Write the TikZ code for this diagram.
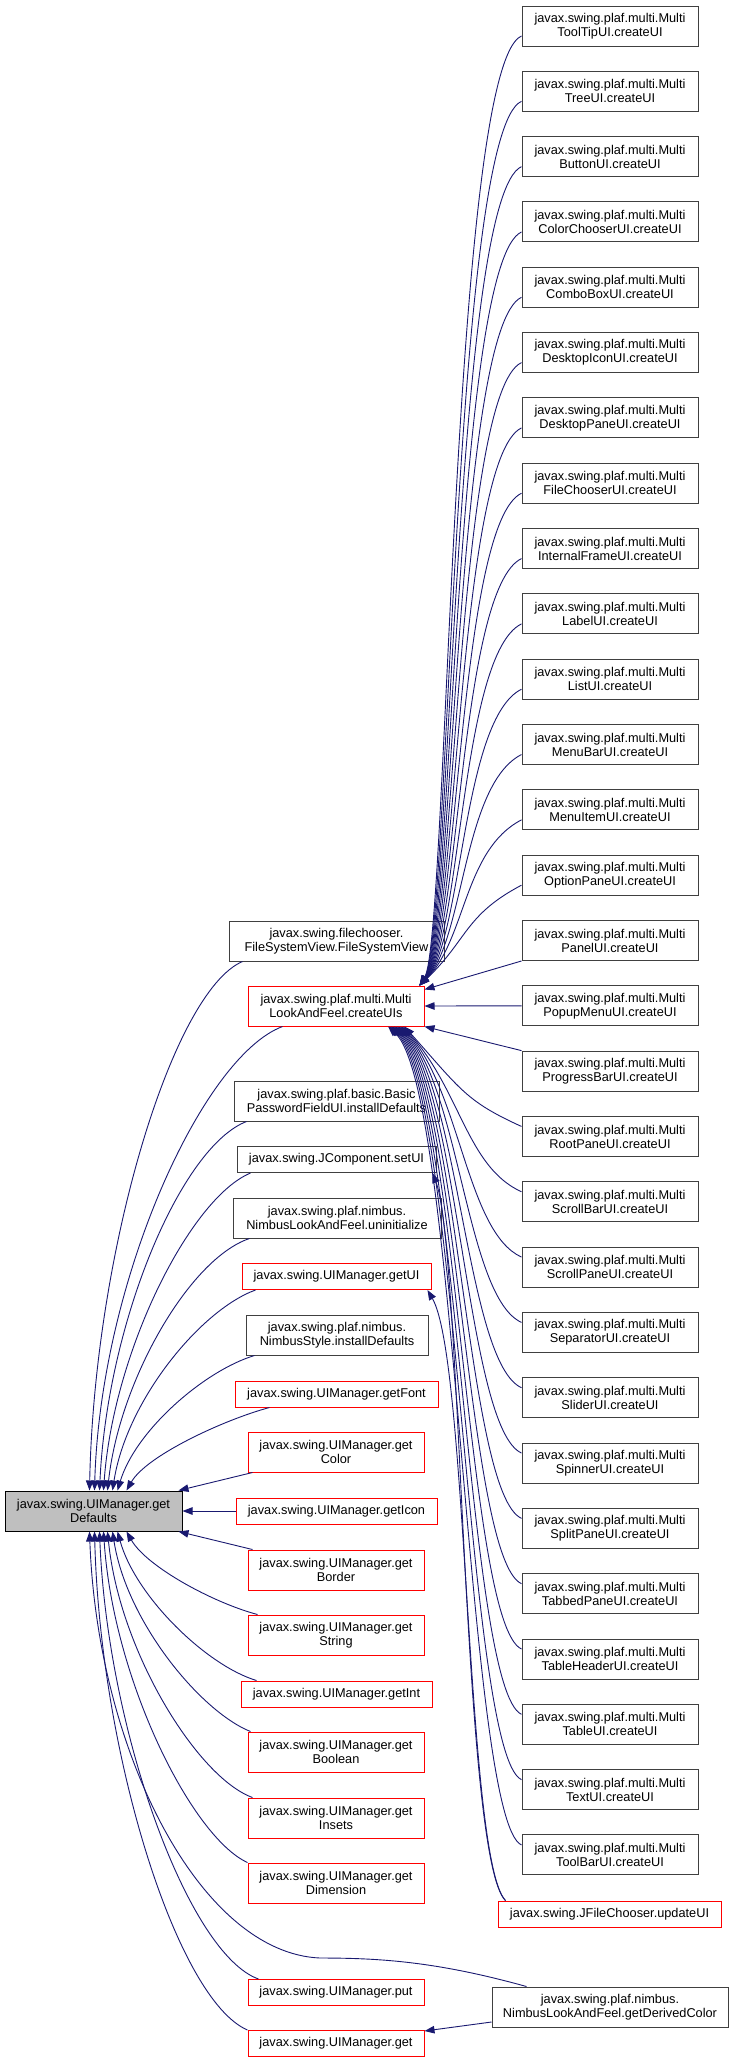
\documentclass[tikz,border=0pt]{standalone}
\usepackage{fontspec}
\setmainfont{Liberation Sans}
\usetikzlibrary{arrows.meta}
\definecolor{edgec}{RGB}{25,25,112}
\definecolor{gdfill}{RGB}{191,191,191}
\definecolor{boxline}{RGB}{64,64,64}
\begin{document}
\begin{tikzpicture}[x=1pt,y=-1pt,
  bx/.style={draw=boxline, line width=1pt, fill=white, inner sep=0pt, align=center,
    font=\fontsize{12.75}{14}\selectfont},
  rd/.style={bx, draw=red},
  edge/.style={draw=edgec, line width=0.9pt, -{Triangle[length=10pt,width=7.5pt]}},
]
\useasboundingbox (0,0) rectangle (733,2062);

% right column
\foreach \lab [count=\i from 0] in {ToolTipUI,TreeUI,ButtonUI,ColorChooserUI,ComboBoxUI,DesktopIconUI,DesktopPaneUI,FileChooserUI,InternalFrameUI,LabelUI,ListUI,MenuBarUI,MenuItemUI,OptionPaneUI,PanelUI,PopupMenuUI,ProgressBarUI,RootPaneUI,ScrollBarUI,ScrollPaneUI,SeparatorUI,SliderUI,SpinnerUI,SplitPaneUI,TabbedPaneUI,TableHeaderUI,TableUI,TextUI,ToolBarUI}
  \node[bx, minimum width=176pt, minimum height=40pt] (r\i) at (610,{26+65.32*\i}) {javax.swing.plaf.multi.Multi\\\lab.createUI};

\node[rd, minimum width=223pt, minimum height=26pt] (upd) at (609.5,1914) {javax.swing.JFileChooser.updateUI};
\node[bx, minimum width=236pt, minimum height=40pt] (gdc) at (610,2007) {javax.swing.plaf.nimbus.\\NimbusLookAndFeel.getDerivedColor};

% middle column
\node[bx, minimum width=215pt, minimum height=40pt] (fsv) at (336.5,941) {javax.swing.filechooser.\\FileSystemView.FileSystemView};
\node[rd, minimum width=176pt, minimum height=40pt] (cu) at (336,1006) {javax.swing.plaf.multi.Multi\\LookAndFeel.createUIs};
\node[bx, minimum width=205pt, minimum height=40pt] (bpf) at (336.5,1101) {javax.swing.plaf.basic.Basic\\PasswordFieldUI.installDefaults};
\node[bx, minimum width=199pt, minimum height=26pt] (setui) at (336.5,1159.5) {javax.swing.JComponent.setUI};
\node[bx, minimum width=208pt, minimum height=40pt] (uninit) at (337,1218) {javax.swing.plaf.nimbus.\\NimbusLookAndFeel.uninitialize};
\node[rd, minimum width=189pt, minimum height=26pt] (getui) at (336.5,1276.5) {javax.swing.UIManager.getUI};
\node[bx, minimum width=182pt, minimum height=40pt] (nstyle) at (337,1335) {javax.swing.plaf.nimbus.\\NimbusStyle.installDefaults};
\node[rd, minimum width=203pt, minimum height=26pt] (getfont) at (336.5,1394) {javax.swing.UIManager.getFont};
\node[rd, minimum width=176pt, minimum height=40pt] (getcolor) at (336,1452) {javax.swing.UIManager.get\\Color};
\node[rd, minimum width=201pt, minimum height=26pt] (geticon) at (336.5,1511) {javax.swing.UIManager.getIcon};
\node[rd, minimum width=176pt, minimum height=40pt] (getborder) at (336,1570) {javax.swing.UIManager.get\\Border};
\node[rd, minimum width=176pt, minimum height=40pt] (getstring) at (336,1635) {javax.swing.UIManager.get\\String};
\node[rd, minimum width=191pt, minimum height=26pt] (getint) at (336.5,1694) {javax.swing.UIManager.getInt};
\node[rd, minimum width=176pt, minimum height=40pt] (getbool) at (336,1752) {javax.swing.UIManager.get\\Boolean};
\node[rd, minimum width=176pt, minimum height=40pt] (getinsets) at (336,1818) {javax.swing.UIManager.get\\Insets};
\node[rd, minimum width=176pt, minimum height=40pt] (getdim) at (336,1883) {javax.swing.UIManager.get\\Dimension};
\node[rd, minimum width=176pt, minimum height=26pt] (put) at (336,1992.5) {javax.swing.UIManager.put};
\node[rd, minimum width=176pt, minimum height=26pt] (get) at (336,2043.5) {javax.swing.UIManager.get};

% left
\node[bx, draw=black, fill=gdfill, minimum width=177pt, minimum height=40pt] (gd) at (93.5,1511) {javax.swing.UIManager.get\\Defaults};

% right column -> createUIs
\foreach \i in {0,...,13}
  \draw[edge] ([yshift=-10pt]r\i.west) .. controls +({-70+\i},30) and ({448+1.5*\i},940) .. ([xshift=-5pt]cu.north east);
\draw[edge] (r14.south west) -- ([yshift=-4pt]cu.north east);
\draw[edge] (r15.west) -- (cu.east);
\draw[edge] (r16.north west) -- (cu.south east);
\foreach \i in {17,...,28}
  \draw[edge] ([yshift=10pt]r\i.west) .. controls +(-55,-25) and ({466-0.3*\i},1090) .. ([xshift={-20pt-(\i-17)*1.5pt}]cu.south east);

% updateUI
\draw[edge] ([xshift=8pt]upd.north west) .. controls (462,1860) and (462,1250) .. ([xshift=-4pt]setui.south east);
\draw[edge] ([xshift=8pt]upd.north west) .. controls (466,1860) and (468,1360) .. ([xshift=-4pt]getui.south east);

% to getDefaults
\draw[edge] ([xshift=14pt]fsv.south west) .. controls +(-70,30) and +(5,-240) .. ([xshift=85pt]gd.north west);
\draw[edge] ([xshift=35pt]cu.south west) .. controls +(-80,30) and +(6,-210) .. ([xshift=90pt]gd.north west);
\draw[edge] ([xshift=13pt]bpf.south west) .. controls +(-65,25) and +(8,-170) .. ([xshift=95pt]gd.north west);
\draw[edge] ([xshift=14pt]setui.south west) .. controls +(-60,25) and +(10,-140) .. ([xshift=99pt]gd.north west);
\draw[edge] ([xshift=17pt]uninit.south west) .. controls +(-60,20) and +(12,-110) .. ([xshift=103pt]gd.north west);
\draw[edge] ([xshift=14pt]getui.south west) .. controls +(-55,20) and +(14,-90) .. ([xshift=108pt]gd.north west);
\draw[edge] ([xshift=9pt]nstyle.south west) .. controls +(-50,15) and +(18,-60) .. ([xshift=113pt]gd.north west);
\draw[edge] ([xshift=35pt]getfont.south west) .. controls +(-45,12) and +(20,-35) .. ([xshift=122pt]gd.north west);
\draw[edge] ([xshift=5pt]getcolor.south west) -- ([xshift=-4pt]gd.north east);
\draw[edge] (geticon.west) -- (gd.east);
\draw[edge] ([xshift=5pt]getborder.north west) -- ([xshift=-4pt]gd.south east);
\draw[edge] ([xshift=10pt]getstring.north west) .. controls +(-45,-12) and +(20,35) .. ([xshift=122pt]gd.south west);
\draw[edge] ([xshift=16pt]getint.north west) .. controls +(-50,-15) and +(18,65) .. ([xshift=113pt]gd.south west);
\draw[edge] ([xshift=3pt]getbool.north west) .. controls +(-50,-20) and +(14,90) .. ([xshift=108pt]gd.south west);
\draw[edge] ([xshift=5pt]getinsets.north west) .. controls +(-55,-20) and +(12,120) .. ([xshift=103pt]gd.south west);
\draw[edge] (getdim.north west) .. controls +(-55,-25) and +(10,150) .. ([xshift=99pt]gd.south west);
\draw[edge] ([xshift=11pt]put.north west) .. controls +(-70,-25) and +(8,200) .. ([xshift=95pt]gd.south west);
\draw[edge] (get.north west) .. controls +(-70,-30) and +(6,225) .. ([xshift=90pt]gd.south west);
\draw[edge] ([xshift=35pt]gdc.north west) .. controls +(-90,-25) and +(60,0) .. (320,1958) .. controls +(-120,-5) and +(8,220) .. ([xshift=85pt]gd.south west);
\draw[edge] ([yshift=-15pt]gdc.west) -- ([yshift=-1pt]get.north east);
\end{tikzpicture}
\end{document}
